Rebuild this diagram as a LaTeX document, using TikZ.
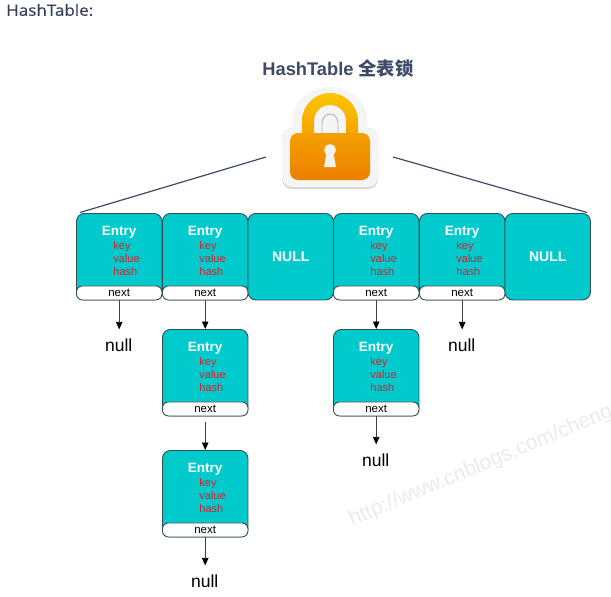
\documentclass[tikz,border=0pt]{standalone}
\usepackage{fontspec}
\setmainfont{Liberation Sans}
\newfontfamily\uifont[FakeBold=0.25]{Open Sans}
\newfontfamily\cjkfont{Noto Sans CJK SC}
\usetikzlibrary{arrows.meta}
\definecolor{teal1}{HTML}{00CACC}
\definecolor{edge1}{HTML}{2F4F55}
\definecolor{red1}{HTML}{D2232E}
\definecolor{navy1}{HTML}{3E4A68}
\definecolor{gold1}{HTML}{FDC600}
\definecolor{gold2}{HTML}{F5A200}
\definecolor{amber1}{HTML}{F5A000}
\definecolor{amber2}{HTML}{EC8000}
\tikzset{
  cell/.style={draw=edge1,line width=0.9pt,fill=teal1,rounded corners=8pt,minimum width=85.5pt,minimum height=86.5pt,inner sep=0pt,anchor=north west},
  nextbox/.style={draw=edge1,line width=0.9pt,fill=white,rounded corners=6pt,minimum width=85.5pt,minimum height=14pt,inner sep=0pt,anchor=south,font=\fontsize{11.5}{12}\selectfont},
  etitle/.style={text=white,font=\fontsize{13.5}{14}\selectfont\bfseries,inner sep=0pt},
  efield/.style={text=red1,font=\fontsize{11}{12}\selectfont,inner sep=0pt,anchor=west},
  nulltxt/.style={font=\fontsize{17.5}{18}\selectfont,inner sep=0pt},
  link/.style={draw=black!75,line width=0.8pt,-{Triangle[length=7.5pt,width=6.5pt,color=black]}},
  wire/.style={draw=navy1,line width=1.2pt}
}
\newcommand{\entrycell}[3]{%
  \node[cell] (#1) at (#2,#3) {};
  \node[etitle] (#1t) at ([xshift=0pt,yshift=-19pt]#1.north) {Entry};
  \node[efield] (#1k) at ([xshift=-6pt,yshift=-34pt]#1.north) {key};
  \node[efield] (#1v) at ([xshift=-6pt,yshift=-46pt]#1.north) {value};
  \node[efield] (#1h) at ([xshift=-6pt,yshift=-59pt]#1.north) {hash};
  \node[nextbox] (#1n) at (#1.south) {\raisebox{0.5pt}{next}};
}
\begin{document}
\begin{tikzpicture}[x=1pt,y=-1pt]
\useasboundingbox (0,0) rectangle (611,597);
\fill[white] (0,0) rectangle (611,597);
% watermark
\node[rotate=22.8,text=black!8,font=\fontsize{21}{22}\selectfont,inner sep=0pt,anchor=west] (wm) at (350,521) {http://www.cnblogs.com/cheng};
\node[inner sep=0pt,anchor=west,text=navy1!85!black,font=\uifont\fontsize{15.5}{16}\selectfont,xscale=1.1] (head) at (6,10) {HashTable:};
\node[inner sep=0pt,text=navy1,font=\fontsize{18.3}{19}\selectfont\bfseries] (title) at (338,68) {HashTable {\cjkfont 全表锁}};
% lock plate
\fill[black!16,rounded corners=10pt] (282,128) rectangle (378,189);
\fill[black!4,rounded corners=10pt] (282,128) rectangle (378,187);
\fill[black!4] (293,132) -- (293,120) .. controls (293,101.8) and (309.6,87) .. (330,87) .. controls (350.4,87) and (367,101.8) .. (367,120) -- (367,132) -- cycle;
% shackle
\shade[top color=gold1,bottom color=gold2,even odd rule]
  (302,136) -- (302,121) .. controls (302,105.5) and (314.5,93) .. (330,93) .. controls (345.5,93) and (358,105.5) .. (358,121) -- (358,136) -- cycle
  (314,134) -- (314,121) .. controls (314,112) and (321,105) .. (330,105) .. controls (339,105) and (346,112) .. (346,121) -- (346,134) -- cycle;
\draw[black!30,line width=0.9pt] (322,134) -- (322,123) .. controls (322,118) and (325.5,114) .. (330,114) .. controls (334.5,114) and (338,118) .. (338,123) -- (338,134);
% body
\shade[rounded corners=8pt,top color=amber1,bottom color=amber2] (290,133) rectangle (370,180);
\node[circle,fill=black!5,minimum size=11.5pt,inner sep=0pt] (hole) at (330,150) {};
\fill[black!5] (327,151) -- (333,151) -- (336,167) -- (324,167) -- cycle;
% wires
\coordinate (wl) at (266,157);
\coordinate (wr) at (393,157);
\coordinate (wle) at (80,212.5);
\coordinate (wre) at (587,212.5);
\draw[wire] (wl) -- (wle);
\draw[wire] (wr) -- (wre);
% table
\entrycell{a}{76}{213}
\entrycell{b}{162}{213}
\node[cell,font=\fontsize{14}{14}\selectfont\bfseries,text=white] (c) at (247.5,213) {NULL};
\entrycell{d}{333}{213}
\entrycell{e}{419}{213}
\node[cell,font=\fontsize{14}{14}\selectfont\bfseries,text=white] (f) at (504.5,213) {NULL};
% chains
\entrycell{b1}{162}{329}
\entrycell{b2}{162}{450}
\entrycell{d1}{333}{329}
\node[nulltxt] (n1) at (118.75,345) {null};
\node[nulltxt] (n2) at (204.75,581) {null};
\node[nulltxt] (n3) at (375.75,460) {null};
\node[nulltxt] (n4) at (461.75,345) {null};
\draw[link] (an.south) -- ([yshift=9pt]an.south |- n1.north);
\draw[link] (bn.south) -- (b1.north);
\draw[link] ([yshift=-6pt]b1n.south) -- (b2.north);
\draw[link] (b2n.south) -- ([yshift=9pt]b2n.south |- n2.north);
\draw[link] (dn.south) -- (d1.north);
\draw[link] (d1n.south) -- ([yshift=9pt]d1n.south |- n3.north);
\draw[link] (en.south) -- ([yshift=9pt]en.south |- n4.north);
\end{tikzpicture}
\end{document}
